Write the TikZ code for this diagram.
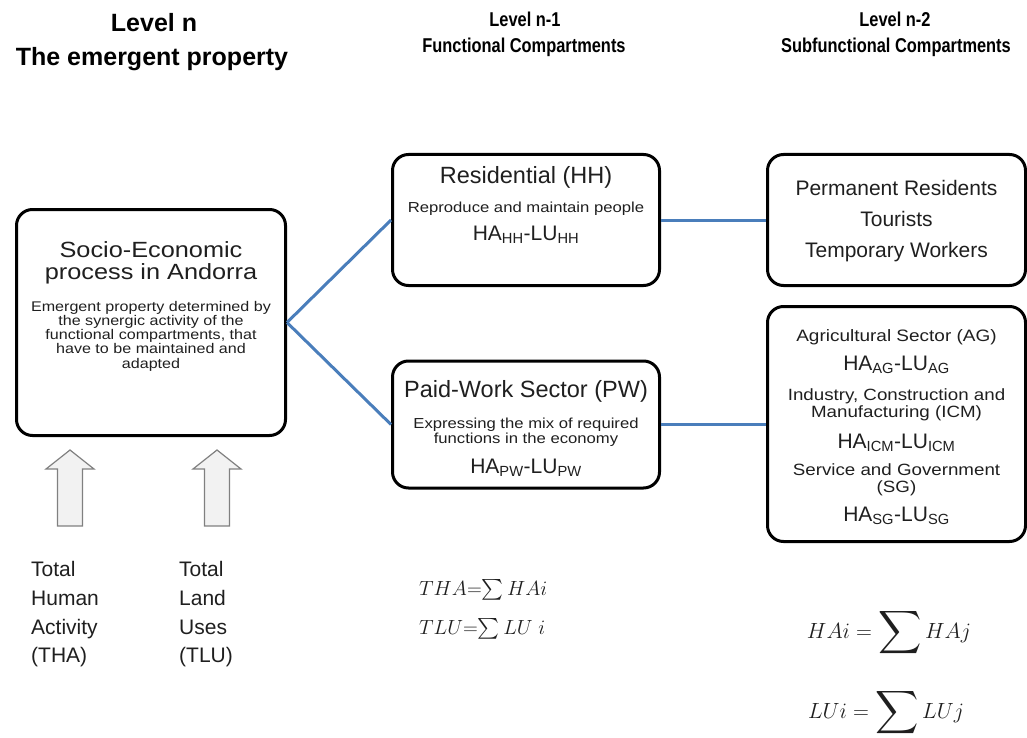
\RequirePackage{fix-cm}
\documentclass[tikz,border=0pt]{standalone}
\usepackage{amsmath}
\usepackage{fontspec}
\setmainfont{Liberation Sans}
\newfontfamily\wideFont[FakeStretch=1.15]{Liberation Sans}
\newfontfamily\narrowFont[FakeStretch=0.82]{Liberation Sans}
\usetikzlibrary{positioning}
\definecolor{linkBlue}{HTML}{4A7EBB}
\definecolor{arrowFill}{HTML}{F2F2F2}
\definecolor{arrowEdge}{HTML}{808080}
\definecolor{inkGray}{HTML}{1F1F1F}
\newcommand{\setfs}[1]{\fontsize{#1}{#1}\selectfont}
\newcommand{\halu}[1]{HA\textsubscript{#1}-LU\textsubscript{#1}}
\newcommand{\bigsum}{\vcenter{\hbox{\scalebox{1.45}{$\displaystyle\sum$}}}\,}

\begin{document}
\begin{tikzpicture}[x=1pt, y=-1pt,
    box/.style={draw, line width=3pt, rounded corners=16pt, inner sep=0pt},
    link/.style={draw=linkBlue, line width=3pt},
    txt/.style={anchor=base, inner sep=0pt, text=inkGray},
    head/.style={anchor=base, inner sep=0pt, font=\bfseries\setfs{25}},
    subhead/.style={anchor=base, inner sep=0pt, font=\narrowFont\bfseries\setfs{20}},
    blockArrow/.style={draw=arrowEdge, fill=arrowFill, line width=1.2pt, line join=miter}
  ]
  \useasboundingbox (0,0) rectangle (1027,738);

  % level headers
  \node[head] (lvN) at (154,32) {Level n};
  \node[head] (lvNsub) at (152,66) {The emergent property};
  \node[subhead] (lvN1) at (525,27) {Level n-1};
  \node[subhead] (lvN1sub) at (524,53) {Functional Compartments};
  \node[subhead] (lvN2) at (895,27) {Level n-2};
  \node[subhead] (lvN2sub) at (896,53) {Subfunctional Compartments};

  % level n
  \node[box, minimum width=269pt, minimum height=226pt] (proc) at (151,322.5) {};
  \node[txt, font=\wideFont\setfs{22}] (procT1) at (151,257) {Socio-Economic};
  \node[txt, font=\wideFont\setfs{22}] (procT2) at (151,279) {process in Andorra};
  \foreach \ln [count=\i] in {Emergent property determined by, the synergic activity of the,
      {functional compartments, that}, have to be maintained and, adapted}
    \node[txt, font=\wideFont\setfs{14}] (procL\i) at (151,297+14.2*\i) {\ln};

  % level n-1
  \node[box, minimum width=267pt, minimum height=131pt] (res) at (526,220) {};
  \node[txt, font=\setfs{23.5}] (resT) at (526,183) {Residential (HH)};
  \node[txt, font=\wideFont\setfs{14.5}] (resL) at (526,212) {Reproduce and maintain people};
  \node[txt, font=\setfs{21}] (resH) at (526,240) {\halu{HH}};

  \node[box, minimum width=267pt, minimum height=127pt] (pw) at (526,424.5) {};
  \node[txt, font=\setfs{23.5}] (pwT) at (526,397) {Paid-Work Sector (PW)};
  \node[txt, font=\wideFont\setfs{14.5}] (pwL1) at (526,428) {Expressing the mix of required};
  \node[txt, font=\wideFont\setfs{14.5}] (pwL2) at (526,443) {functions in the economy};
  \node[txt, font=\setfs{21}] (pwH) at (526,473) {\halu{PW}};

  % level n-2
  \node[box, minimum width=258pt, minimum height=131pt] (perm) at (896.5,220) {};
  \node[txt, font=\setfs{21}] (permL1) at (896.5,195) {Permanent Residents};
  \node[txt, font=\setfs{21}] (permL2) at (896.5,226) {Tourists};
  \node[txt, font=\setfs{21}] (permL3) at (896.5,257) {Temporary Workers};

  \node[box, minimum width=258pt, minimum height=235pt] (agri) at (896.5,424) {};
  \node[txt, font=\wideFont\setfs{16.5}] (agL1) at (896.5,341) {Agricultural Sector (AG)};
  \node[txt, font=\setfs{21}] (agH1) at (896.5,370) {\halu{AG}};
  \node[txt, font=\wideFont\setfs{16.3}] (agL2) at (896.5,400) {Industry, Construction and};
  \node[txt, font=\wideFont\setfs{16.3}] (agL3) at (896.5,417.5) {Manufacturing (ICM)};
  \node[txt, font=\setfs{21}] (agH2) at (896.5,448) {\halu{ICM}};
  \node[txt, font=\wideFont\setfs{16.3}] (agL4) at (896.5,475) {Service and Government};
  \node[txt, font=\wideFont\setfs{16.3}] (agL5) at (896.5,492.5) {(SG)};
  \node[txt, font=\setfs{21}] (agH3) at (896.5,521) {\halu{SG}};

  % connectors
  \draw[link] (proc.east) -- (res.west);
  \draw[link] (proc.east) -- (pw.west);
  \draw[link] (res.east) -- (perm.west);
  \draw[link] (pw.east) -- (pw.east -| agri.west);

  % inputs
  \foreach \ax in {70,217}
    \draw[blockArrow] (\ax,450) -- ++(24,19) -- ++(-11.5,0) -- ++(0,57) -- ++(-25,0)
      -- ++(0,-57) -- ++(-11.5,0) -- cycle;
  \foreach \ln [count=\i] in {Total, Human, Activity, {(THA)}}
    \node[txt, anchor=base west, font=\setfs{21}] (tha\i) at (31,548+28.7*\i) {\ln};
  \foreach \ln [count=\i] in {Total, Land, Uses, {(TLU)}}
    \node[txt, anchor=base west, font=\setfs{21}] (tlu\i) at (179,548+28.7*\i) {\ln};

  % sums
  \node[txt, anchor=base west, font=\setfs{20.5}] (sumT) at (419,595) {$THA{=}{\textstyle\sum}\,HAi$};
  \node[txt, anchor=base west, font=\setfs{20.5}] (sumL) at (419,634) {$TLU{=}{\textstyle\sum}\,LU\ i$};
  \node[txt, font=\setfs{22}] (sumHA) at (889,638) {$HAi=\bigsum HAj$};
  \node[txt, font=\setfs{22}] (sumLU) at (886,718) {$LUi=\bigsum LUj$};
\end{tikzpicture}
\end{document}
